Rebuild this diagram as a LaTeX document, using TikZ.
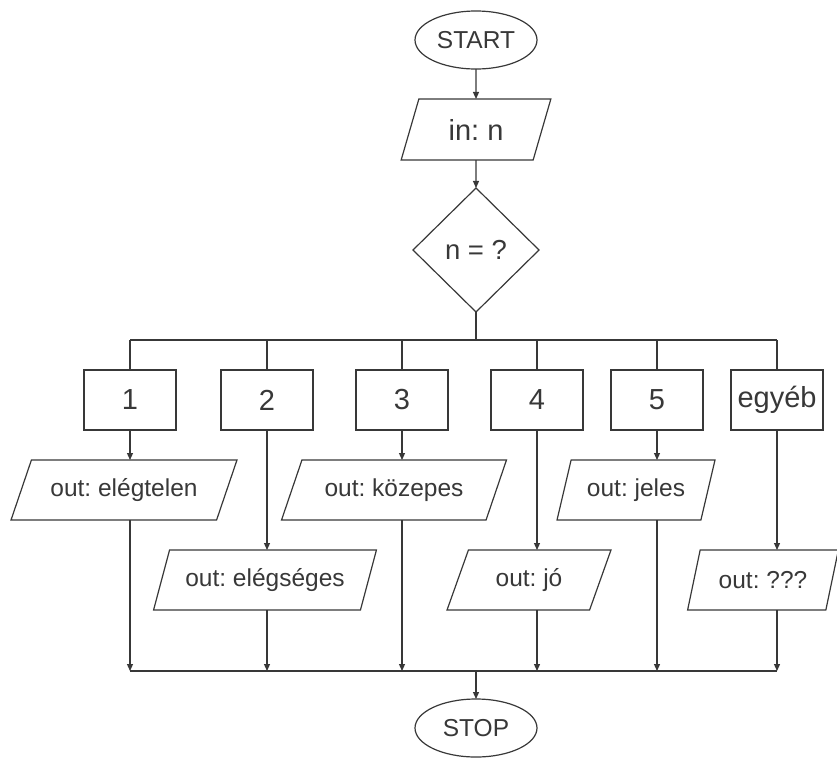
\documentclass[tikz,border=0pt]{standalone}
\usepackage{fontspec}
\setmainfont{Liberation Sans}
\usetikzlibrary{shapes.geometric,arrows.meta}
\definecolor{ink}{gray}{0.22}
\frenchspacing
\begin{document}
\begin{tikzpicture}[x=1pt,y=-1pt,
  every node/.style={inner sep=0pt,outer sep=0pt,text=ink},
  line/.style={draw=ink,line width=1.2pt},
  flow/.style={line,-{Triangle[length=7pt,width=6pt]}},
  smalltext/.style={font=\fontsize{24.5}{28}\selectfont},
  bigtext/.style={font=\fontsize{29}{33}\selectfont},
  term/.style={ellipse,line,smalltext,minimum width=122pt,minimum height=58pt},
  io/.style={trapezium,trapezium stretches=true,line,smalltext,minimum height=60pt},
  casebox/.style={rectangle,line,bigtext,minimum width=92pt,minimum height=60pt},
  decision/.style={diamond,line,font=\fontsize{27.5}{31}\selectfont,minimum width=126pt,minimum height=124pt}
]
\useasboundingbox (0,0) rectangle (837,758);

% top: start, input and the branch test
\node[term] (start) at (476,40) {START};
\node[io,bigtext,trapezium left angle=68,trapezium right angle=112,minimum width=150pt,minimum height=61pt] (in) at (476,129.5) {in: n};
\node[decision] (dec) at (476,250) {n = ?};

% case boxes
\node[casebox] (b1) at (130,400) {1};
\node[casebox] (b2) at (267,400) {2};
\node[casebox] (b3) at (402,400) {3};
\node[casebox] (b4) at (537,400) {4};
\node[casebox] (b5) at (657,400) {5};
\node[casebox] (b6) at (777,400) {egyéb};

% output blocks, first row
\node[io,trapezium left angle=55,trapezium right angle=125,minimum width=226pt] (p1) at (124,490) {out: elégtelen};
\node[io,trapezium left angle=56,trapezium right angle=124,minimum width=225pt] (p3) at (394,490) {out: közepes};
\node[io,trapezium left angle=65,trapezium right angle=115,minimum width=158pt] (p5) at (636,490) {out: jeles};
% output blocks, second row
\node[io,trapezium left angle=60,trapezium right angle=120,minimum width=223pt] (p2) at (265,580) {out: elégséges};
\node[io,trapezium left angle=63,trapezium right angle=117,minimum width=165pt] (p4) at (529,580) {out: jó};
\node[io,trapezium left angle=63,trapezium right angle=117,minimum width=151pt] (p6) at (763,580) {out: ???};

\node[term] (stop) at (476,728) {STOP};

% bus lines
\coordinate (ti) at (476,340);
\coordinate (tl) at (130,340);
\coordinate (tr) at (777,340);
\coordinate (bi) at (476,671);
\coordinate (bl) at (130,671);
\coordinate (br) at (777,671);

\draw[flow] (start) -- (in);
\draw[flow] (in) -- (dec);
\draw[line] (dec.south) -- (ti);
\draw[line] (tl) -- (tr);
\draw[line] (bl) -- (br);
\draw[flow] (bi) -- (stop);

\foreach \b in {b1,b2,b3,b4,b5,b6}
  \draw[line] (\b.north |- tl) -- (\b.north);

% each case down to its output block
\draw[flow] (b1.south) -- (b1.south |- p1.north);
\draw[flow] (b3.south) -- (b3.south |- p3.north);
\draw[flow] (b5.south) -- (b5.south |- p5.north);
\draw[flow] (b2.south) -- (b2.south |- p2.north);
\draw[flow] (b4.south) -- (b4.south |- p4.north);
\draw[flow] (b6.south) -- (b6.south |- p6.north);

% output blocks down to the closing bus
\draw[flow] (b1.south |- p1.south) -- (b1.south |- bl);
\draw[flow] (b3.south |- p3.south) -- (b3.south |- bl);
\draw[flow] (b5.south |- p5.south) -- (b5.south |- bl);
\draw[flow] (b2.south |- p2.south) -- (b2.south |- bl);
\draw[flow] (b4.south |- p4.south) -- (b4.south |- bl);
\draw[flow] (b6.south |- p6.south) -- (b6.south |- bl);
\end{tikzpicture}
\end{document}
